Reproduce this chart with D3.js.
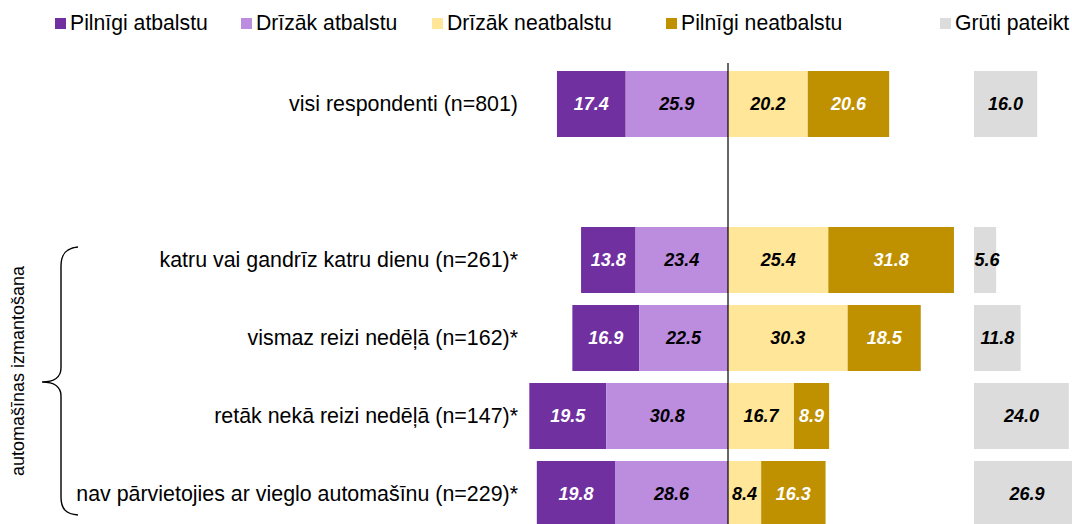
<html>
<head>
<meta charset="utf-8">
<style>
  body { margin: 0; background: #fff; }
  text { font-family: "Liberation Sans", Arial, sans-serif; }
</style>
</head>
<body>
<div id="chart-area"></div>
<script src="https://d3js.org/d3.v7.min.js"></script>
<script>
// data
const rowLabels = ["visi respondenti (n=801)", "katru vai gandrīz katru dienu (n=261)*", "vismaz reizi nedēļā (n=162)*", "retāk nekā reizi nedēļā (n=147)*", "nav pārvietojies ar vieglo automašīnu (n=229)*"]
const fullySupport = [17.4, 13.8, 16.9, 19.5, 19.8]
const ratherSupport = [25.9, 23.4, 22.5, 30.8, 28.6]
const ratherNot = [20.2, 25.4, 30.3, 16.7, 8.4]
const fullyNot = [20.6, 31.8, 18.5, 8.9, 16.3]
const hardToSay = [16.0, 5.6, 11.8, 24.0, 26.9]
const legendNames = ["Pilnīgi atbalstu", "Drīzāk atbalstu", "Drīzāk neatbalstu", "Pilnīgi neatbalstu", "Grūti pateikt"]
const groupTitle = "automašīnas izmantošana"

const WIDTH = 1072, HEIGHT = 524
const COLORS = ["#7030A0", "#BC8CDE", "#FFE699", "#BF9000", "#DCDCDC"]
const LABEL_COLORS = ["#fff", "#000", "#000", "#fff", "#000"]
const LEGEND_X = [55, 241, 432, 666, 940]

const svg = d3.select("#chart-area").append("svg")
    .attr("width", WIDTH).attr("height", HEIGHT)

// rows: first one, an empty gap, then the four groups
const rowKeys = ["r0", "gap", "r1", "r2", "r3", "r4"]
const y = d3.scaleBand().domain(rowKeys).range([65, 533]).paddingInner(0.154).paddingOuter(0.077)

const x = d3.scaleLinear().domain([-50, 40]).range([728 - 197.5, 728 + 158])
const xh = d3.scaleLinear().domain([0, 27]).range([974, 974 + 27 * 3.95])

const rows = rowLabels.map((name, i) => ({
    key: "r" + i, name,
    segs: [
        { v: fullySupport[i], x0: -(fullySupport[i] + ratherSupport[i]), x1: -ratherSupport[i], c: 0 },
        { v: ratherSupport[i], x0: -ratherSupport[i], x1: 0, c: 1 },
        { v: ratherNot[i], x0: 0, x1: ratherNot[i], c: 2 },
        { v: fullyNot[i], x0: ratherNot[i], x1: ratherNot[i] + fullyNot[i], c: 3 }
    ],
    hard: hardToSay[i]
}))

const rowG = svg.selectAll("g.row").data(rows).enter().append("g")
    .attr("class", "row")
    .attr("transform", d => `translate(0, ${y(d.key)})`)

rowG.selectAll("rect.seg").data(d => d.segs).enter().append("rect")
    .attr("class", "seg")
    .attr("x", d => x(d.x0))
    .attr("width", d => x(d.x1) - x(d.x0))
    .attr("height", y.bandwidth())
    .attr("fill", d => COLORS[d.c])

rowG.selectAll("text.val").data(d => d.segs).enter().append("text")
    .attr("class", "val")
    .attr("x", d => (x(d.x0) + x(d.x1)) / 2)
    .attr("y", y.bandwidth() / 2 + 6.5)
    .attr("text-anchor", "middle")
    .attr("font-size", "18px")
    .attr("font-weight", "bold")
    .attr("font-style", "italic")
    .attr("fill", d => LABEL_COLORS[d.c])
    .text(d => d.v.toFixed(1))

rowG.append("rect")
    .attr("x", xh(0))
    .attr("width", d => xh(d.hard) - xh(0))
    .attr("height", y.bandwidth())
    .attr("fill", COLORS[4])

rowG.append("text")
    .attr("x", d => Math.max((xh(0) + xh(d.hard)) / 2, xh(0) + 13))
    .attr("y", y.bandwidth() / 2 + 6.5)
    .attr("text-anchor", "middle")
    .attr("font-size", "18px")
    .attr("font-weight", "bold")
    .attr("font-style", "italic")
    .attr("fill", "#000")
    .text(d => d.hard.toFixed(1))

rowG.append("text")
    .attr("x", 518)
    .attr("y", y.bandwidth() / 2 + 7.5)
    .attr("text-anchor", "end")
    .attr("font-size", "21.4px")
    .attr("fill", "#000")
    .text(d => d.name)

// centre line
svg.append("line")
    .attr("x1", x(0)).attr("x2", x(0))
    .attr("y1", 63).attr("y2", HEIGHT)
    .attr("stroke", "#000").attr("stroke-width", 1.2)

// legend
const leg = svg.selectAll("g.leg").data(legendNames).enter().append("g")
    .attr("class", "leg")
    .attr("transform", (d, i) => `translate(${LEGEND_X[i]}, 0)`)
leg.append("rect")
    .attr("y", 18).attr("width", 11).attr("height", 11)
    .attr("fill", (d, i) => COLORS[i])
leg.append("text")
    .attr("x", 15).attr("y", 30)
    .attr("font-size", "21.2px")
    .attr("fill", "#000")
    .text(d => d)

// brace + group title
svg.append("path")
    .attr("d", "M78,247 C66,248 61,254 61,266 L61,368 C61,377 54,382 42,382 C54,382 61,387 61,396 L61,497 C61,509 66,514 78,515")
    .attr("fill", "none").attr("stroke", "#000").attr("stroke-width", 1.4)

svg.append("text")
    .attr("transform", "translate(24, 371) rotate(-90)")
    .attr("text-anchor", "middle")
    .attr("font-size", "18px")
    .attr("fill", "#000")
    .text(groupTitle)
</script>
</body>
</html>
